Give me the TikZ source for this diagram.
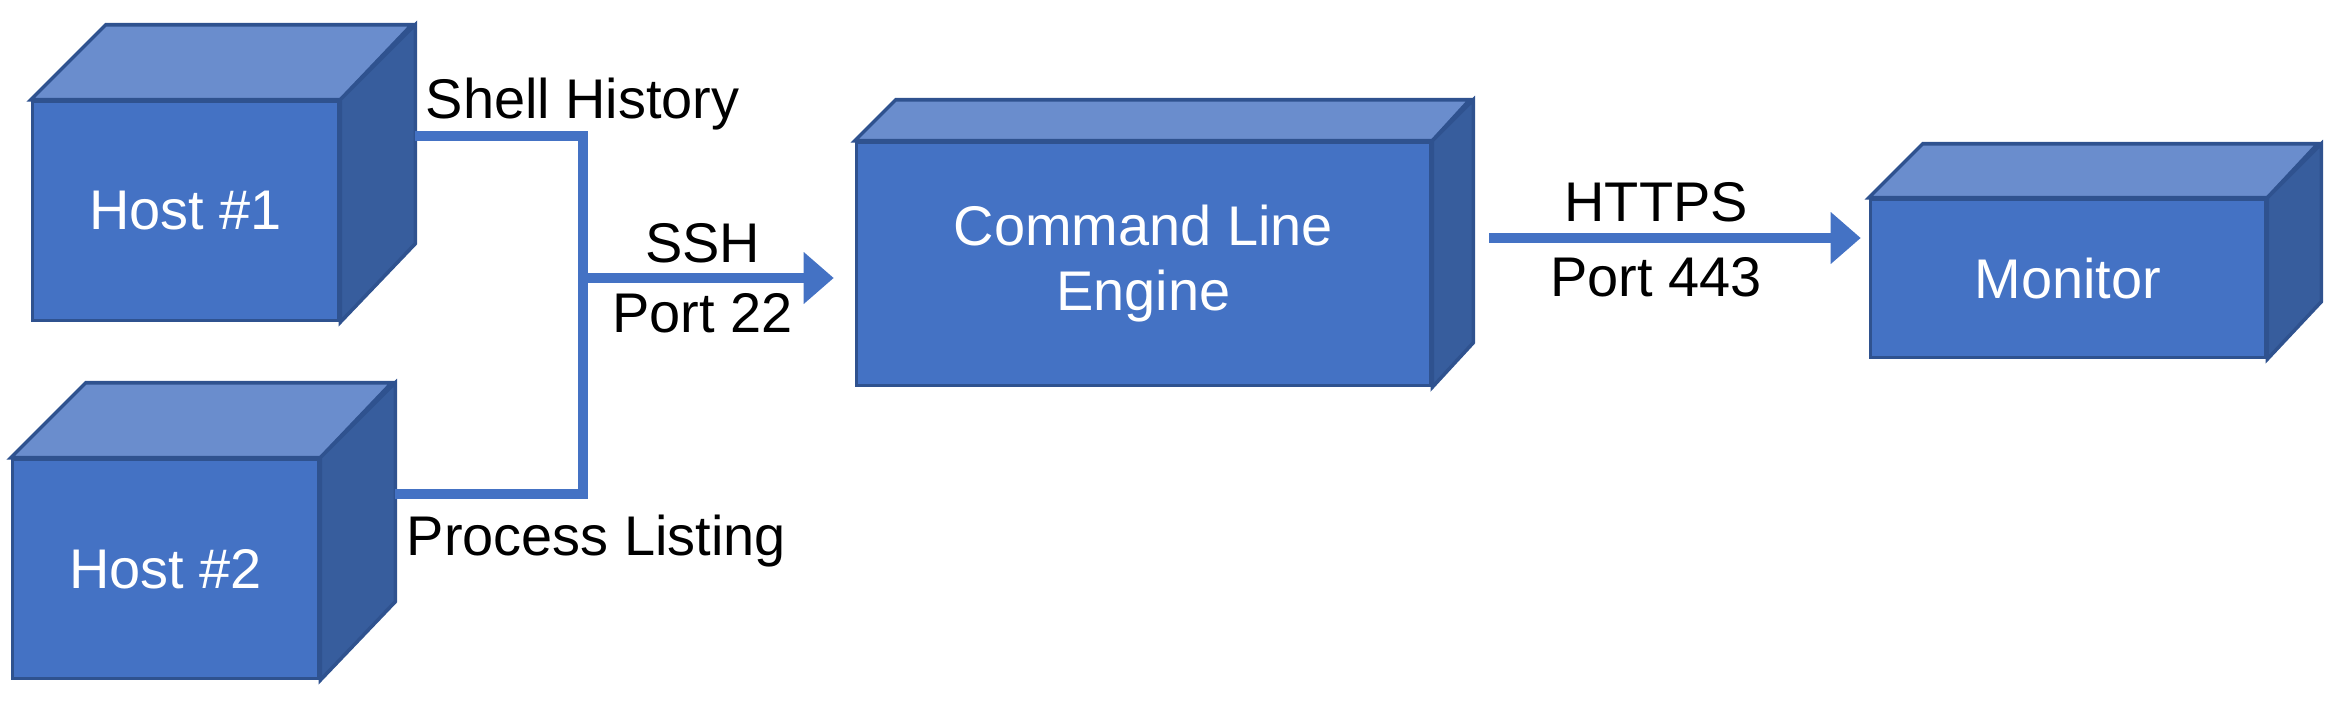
\documentclass[tikz,border=0pt]{standalone}
\usepackage{fontspec}
\setmainfont{Liberation Sans}
\usepackage{tikz}
\usetikzlibrary{arrows.meta}
\usetikzlibrary{calc}
\usetikzlibrary{positioning}
\tikzset{front/.style = {fill = mblue, draw = medge, line width = 1pt, text = white, align = center, inner sep = 0}}
\tikzset{face/.style = {draw = medge, line width = 1pt}}
\tikzset{link/.style = {draw = mblue, line width = 2.8pt}}
\tikzset{tip/.style = {-{Triangle[length = 0.3cm, width = 0.5cm]}}}
\tikzset{lbl/.style = {inner sep = 0}}
\definecolor{mblue}{HTML}{4472C4}
\definecolor{mtop}{HTML}{6A8DCD}
\definecolor{mside}{HTML}{375D9D}
\definecolor{medge}{HTML}{2F528F}

\begin{document}
\begin{tikzpicture}[x = 0.01cm, y = 0.01cm]
    \fontsize{15.9}{18.5}\selectfont
    \useasboundingbox (0, 0) rectangle (2342, 708);
    \foreach \nm/\x/\y/\w/\h/\dd/\txt in {host1/185.5/497/306/219/75/Host \#1, host2/165.5/139/306/219/75/Host \#2, cle/1143.5/444/574/243/41/Command Line\\Engine, mon/2068/429.5/395/158/54/Monitor}{
      \node [front, minimum width = \w*0.01cm, minimum height = \h*0.01cm] (\nm) at (\x, \y) {\txt};
      \filldraw [face, fill = mtop] (\nm.north west) -- ++(\dd, \dd) -- ++(\w, 0) -- (\nm.north east) -- cycle;
      \filldraw [face, fill = mside] (\nm.north east) -- ++(\dd, \dd) -- ++(0, -\h) -- (\nm.south east) -- cycle;
      \coordinate (\nm-side) at ($(\nm.east) + (\dd, \dd)$);
    }
    \coordinate (join) at (583, 430);
    \coordinate (web) at (1489, 470);
    \draw [link] (host1-side) -| (join) |- (host2-side);
    \draw [link, tip, shorten > = 0.21cm] (join) -- (join -| cle.west) node [lbl, pos = 0.44, above = 0.1cm] (ssh) {SSH} node [lbl, pos = 0.44, below = 0.11cm] (p22) {Port 22};
    \draw [link, tip, shorten > = 0.08cm] (web) -- (web -| mon.west) node [lbl, pos = 0.44, above = 0.11cm] (https) {HTTPS} node [lbl, pos = 0.44, below = 0.15cm] (p443) {Port 443};
    \node [lbl, anchor = base west] (shell) at (425, 590) {Shell History};
    \node [lbl, anchor = base west] (proc) at (406, 153) {Process Listing};
  \end{tikzpicture}
\end{document}
